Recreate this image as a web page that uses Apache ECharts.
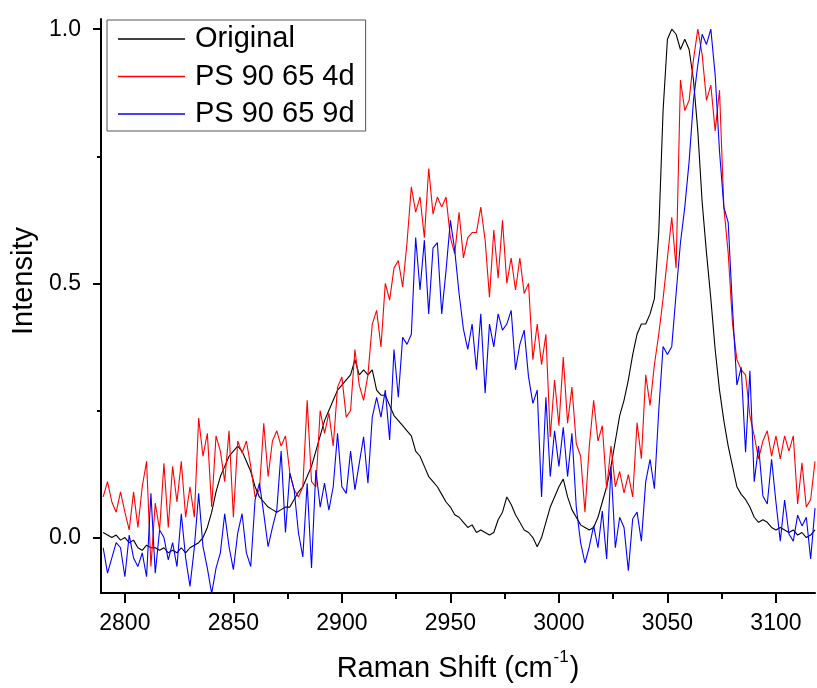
<!DOCTYPE html>
<html>
<head>
<meta charset="utf-8">
<script src="https://cdn.jsdelivr.net/npm/echarts@6/dist/echarts.min.js"></script>
<style>
html,body{margin:0;padding:0;background:#fff;}
#chart{width:817px;height:688px;}
</style>
</head>
<body>
<div id="chart"></div>
<script>
// Raman shift sampling grid (cm-1): 2790 .. 3118, every 2 cm-1
const shiftStart = 2790, shiftStep = 2, shiftEnd = 3118;
const ramanShift = [];
for (let w = shiftStart; w <= shiftEnd; w += shiftStep) ramanShift.push(w);

const seriesNames = ['Original', 'PS 90 65 4d', 'PS 90 65 9d'];

const original = [
  0.01, 0.005, 0.0, 0.005, -0.005, 0.0, -0.01, -0.005, -0.02, -0.025,
  -0.015, -0.02, -0.02, -0.025, -0.02, -0.03, -0.025, -0.03, -0.02, -0.03,
  -0.02, -0.015, -0.01, 0.0, 0.02, 0.05, 0.09, 0.12, 0.14, 0.16,
  0.17, 0.18, 0.17, 0.15, 0.13, 0.10, 0.08, 0.07, 0.06, 0.055,
  0.05, 0.055, 0.06, 0.06, 0.075, 0.09, 0.10, 0.12, 0.14, 0.17,
  0.20, 0.23, 0.25, 0.27, 0.29, 0.30, 0.31, 0.32, 0.35, 0.32,
  0.33, 0.32, 0.33, 0.29, 0.28, 0.28, 0.26, 0.24, 0.23, 0.22,
  0.21, 0.20, 0.17, 0.16, 0.14, 0.12, 0.11, 0.10, 0.085, 0.07,
  0.06, 0.045, 0.04, 0.03, 0.02, 0.025, 0.01, 0.015, 0.01, 0.005,
  0.01, 0.035, 0.05, 0.08, 0.065, 0.045, 0.03, 0.015, 0.01, 0.0,
  -0.018, 0.0, 0.03, 0.06, 0.08, 0.10, 0.115, 0.08, 0.055, 0.04,
  0.025, 0.02, 0.015, 0.02, 0.04, 0.07, 0.10, 0.14, 0.19, 0.24,
  0.27, 0.31, 0.36, 0.40, 0.42, 0.42, 0.44, 0.47, 0.60, 0.84,
  0.98, 1.0, 0.99, 0.96, 0.98, 0.96, 0.90, 0.80, 0.66, 0.56,
  0.47, 0.37, 0.29, 0.23, 0.18, 0.14, 0.10, 0.085, 0.075, 0.06,
  0.04, 0.03, 0.035, 0.03, 0.02, 0.015, 0.02, 0.015, 0.01, 0.015,
  0.005, 0.01, 0.0, 0.005, 0.015
];

const ps4d = [
  0.08, 0.11, 0.07, 0.05, 0.09, 0.05, 0.015, 0.09, 0.02, 0.10,
  0.15, -0.057, 0.068, 0.015, 0.146, 0.02, 0.14, 0.07, 0.15, 0.04,
  0.10, 0.04, 0.235, 0.16, 0.205, 0.06, 0.20, 0.17, 0.11, 0.21,
  0.04, 0.19, 0.166, 0.19, 0.14, 0.08, 0.094, 0.225, 0.12, 0.19,
  0.21, 0.18, 0.20, 0.127, 0.094, 0.08, 0.10, 0.27, 0.11, 0.10,
  0.25, 0.205, 0.245, 0.18, 0.296, 0.316, 0.237, 0.25, 0.37, 0.30,
  0.27, 0.32, 0.42, 0.447, 0.375, 0.50, 0.467, 0.53, 0.545, 0.493,
  0.58, 0.69, 0.64, 0.67, 0.59, 0.726, 0.636, 0.67, 0.65, 0.67,
  0.59, 0.558, 0.64, 0.55, 0.59, 0.60, 0.60, 0.65, 0.585, 0.473,
  0.605, 0.51, 0.624, 0.50, 0.55, 0.487, 0.55, 0.48, 0.50, 0.35,
  0.42, 0.34, 0.40, 0.198, 0.31, 0.22, 0.355, 0.225, 0.296, 0.185,
  0.16, 0.05, 0.18, 0.27, 0.19, 0.22, 0.096, 0.18, 0.10, 0.13,
  0.088, 0.124, 0.08, 0.226, 0.155, 0.32, 0.26, 0.34, 0.40, 0.47,
  0.55, 0.63, 0.53, 0.90, 0.84, 0.86, 0.94, 1.0, 0.95, 0.86,
  0.89, 0.80, 0.88, 0.65, 0.56, 0.42, 0.35, 0.33, 0.32, 0.24,
  0.20, 0.155, 0.19, 0.21, 0.16, 0.20, 0.155, 0.20, 0.17, 0.20,
  0.066, 0.147, 0.06, 0.075, 0.15
];

const ps9d = [
  -0.02, -0.07, -0.04, -0.01, -0.02, -0.077, 0.005, -0.04, -0.057, -0.03,
  -0.077, 0.087, -0.07, 0.015, 0.0, -0.044, -0.01, -0.057, 0.047, -0.04,
  -0.096, -0.02, 0.087, -0.018, -0.06, -0.11, -0.06, -0.03, 0.047, -0.018,
  -0.063, 0.009, 0.047, -0.03, -0.057, 0.074, 0.107, 0.047, -0.018, 0.02,
  0.054, 0.17, 0.01, 0.127, 0.094, 0.009, -0.038, 0.107, -0.06, 0.133,
  0.06, 0.107, 0.054, 0.1, 0.205, 0.1, 0.087, 0.17, 0.094, 0.146,
  0.198, 0.107, 0.237, 0.276, 0.237, 0.29, 0.192, 0.37, 0.276, 0.394,
  0.38, 0.40, 0.59, 0.487, 0.585, 0.44, 0.57, 0.58, 0.44, 0.526,
  0.624, 0.565, 0.48, 0.41, 0.37, 0.42, 0.33, 0.44, 0.284, 0.42,
  0.375, 0.44, 0.408, 0.42, 0.447, 0.33, 0.38, 0.408, 0.316, 0.264,
  0.29, 0.08, 0.276, 0.12, 0.21, 0.14, 0.217, 0.12, 0.205, 0.06,
  -0.01, -0.05, -0.018, 0.023, -0.02, 0.052, -0.042, 0.14, -0.02, 0.04,
  0.02, -0.065, 0.037, 0.05, -0.007, 0.11, 0.154, 0.096, 0.25, 0.376,
  0.36, 0.376, 0.48, 0.58, 0.65, 0.74, 0.86, 0.93, 0.99, 0.97,
  1.0, 0.91, 0.76, 0.65, 0.62, 0.45, 0.30, 0.335, 0.168, 0.328,
  0.11, 0.18, 0.082, 0.066, 0.154, 0.07, -0.007, 0.074, 0.007, -0.007,
  0.044, 0.023, 0.04, -0.042, 0.058
];

const xMajorTicks = [2800, 2850, 2900, 2950, 3000, 3050, 3100];
const xMinorTicks = [2825, 2875, 2925, 2975, 3025, 3075];
const yMajorTicks = [0, 0.5, 1.0];
const yMinorTicks = [0.25, 0.75];

const FONT = "'Liberation Sans', Arial, sans-serif";
const colors = ['#000000', '#ff0000', '#0000ff'];
const seriesValues = [original, ps4d, ps9d];

const xRange = {min: 2789, max: 3118};
const yRange = {min: -0.109, max: 1.02};

const chart = echarts.init(document.getElementById('chart'), null, {renderer: 'canvas'});

const option = {
  animation: false,
  backgroundColor: '#ffffff',
  grid: {left: 101, right: 2, top: 19, bottom: 95, containLabel: false},
  legend: {
    orient: 'vertical',
    left: 107,
    top: 20,
    icon: 'rect',
    itemWidth: 67,
    itemHeight: 1.5,
    itemGap: 7.5,
    padding: [4, 11, 2, 11],
    borderColor: '#555555',
    borderWidth: 1,
    data: seriesNames,
    textStyle: {fontFamily: FONT, fontSize: 29, color: '#000', lineHeight: 30, padding: [0, 0, 0, 5]}
  },
  xAxis: [
    {
      type: 'value', min: xRange.min, max: xRange.max,
      name: '{m|Raman Shift (cm}{s|-1}{m|)}',
      nameLocation: 'middle', nameGap: 56,
      nameTextStyle: {
        fontFamily: FONT, color: '#000',
        rich: {
          m: {fontFamily: FONT, fontSize: 29, color: '#000', lineHeight: 34, verticalAlign: 'bottom'},
          s: {fontFamily: FONT, fontSize: 17, color: '#000', lineHeight: 34, verticalAlign: 'top', padding: [0, 1, 0, 1]}
        }
      },
      axisLine: {show: true, onZero: false, lineStyle: {color: '#000', width: 2}},
      axisTick: {show: true, inside: false, length: 10, customValues: xMajorTicks, lineStyle: {color: '#000', width: 2}},
      axisLabel: {show: true, customValues: xMajorTicks, margin: 19, fontFamily: FONT, fontSize: 23, color: '#000',
                  formatter: v => String(Math.round(v))},
      splitLine: {show: false}
    },
    {
      type: 'value', min: xRange.min, max: xRange.max, position: 'bottom', offset: 0,
      axisLine: {show: false, onZero: false},
      axisTick: {show: true, inside: false, length: 6, customValues: xMinorTicks, lineStyle: {color: '#000', width: 2}},
      axisLabel: {show: false},
      splitLine: {show: false}
    }
  ],
  yAxis: [
    {
      type: 'value', min: yRange.min, max: yRange.max,
      name: 'Intensity', nameLocation: 'middle', nameGap: 62, nameRotate: 90,
      nameTextStyle: {fontFamily: FONT, fontSize: 29, color: '#000', padding: [0, 0, 0, 50]},
      axisLine: {show: true, onZero: false, lineStyle: {color: '#000', width: 2}},
      axisTick: {show: true, inside: false, length: 8, customValues: yMajorTicks, lineStyle: {color: '#000', width: 2}},
      axisLabel: {show: true, customValues: yMajorTicks, margin: 20, fontFamily: FONT, fontSize: 23, color: '#000',
                  formatter: v => v.toFixed(1)},
      splitLine: {show: false}
    },
    {
      type: 'value', min: yRange.min, max: yRange.max, position: 'left', offset: 0,
      axisLine: {show: false, onZero: false},
      axisTick: {show: true, inside: false, length: 4, customValues: yMinorTicks, lineStyle: {color: '#000', width: 2}},
      axisLabel: {show: false},
      splitLine: {show: false}
    }
  ],
  series: seriesNames.map((name, k) => ({
    name: name,
    type: 'line',
    xAxisIndex: 0,
    yAxisIndex: 0,
    showSymbol: false,
    symbol: 'none',
    smooth: false,
    lineStyle: {color: colors[k], width: 1.1},
    itemStyle: {color: colors[k]},
    data: ramanShift.map((w, i) => [w, seriesValues[k][i]])
  }))
};

chart.setOption(option);
</script>
</body>
</html>
